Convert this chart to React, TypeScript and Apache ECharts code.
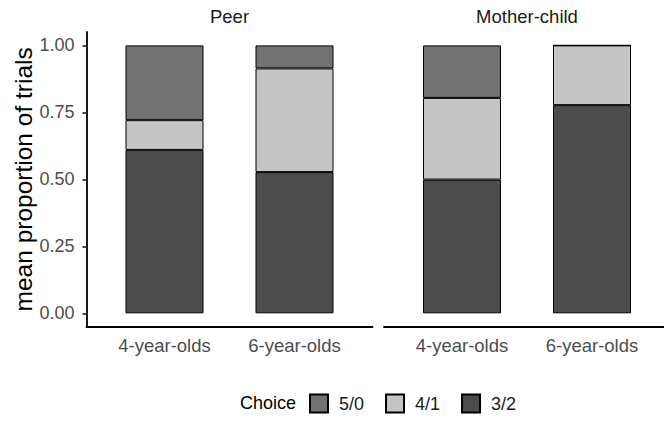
import React, { useEffect, useRef } from "react";
import * as echarts from "echarts";

const panels = ["Peer", "Mother-child"];
const ageGroups = ["4-year-olds", "6-year-olds"];
const choices = ["5/0", "4/1", "3/2"];
const choiceColors = ["#727272", "#c5c5c5", "#4c4c4c"];

// values per choice, per age group
const peer32 = [0.61, 0.527];
const peer41 = [0.111, 0.387];
const peer50 = [0.279, 0.086];
const mother32 = [0.499, 0.777];
const mother41 = [0.305, 0.223];
const mother50 = [0.196, 0.0];

const yTicks = [0, 0.25, 0.5, 0.75, 1];

const FONT = 'Arial, "Liberation Sans", sans-serif';

export default function App() {
  const ref = useRef<HTMLDivElement>(null);
  useEffect(() => {
    if (!ref.current) return;
    const chart = echarts.init(ref.current, null, { renderer: "svg" });
    const gridTop = 32;
    const gridH = 294.7;
    const gridW = 286;
    const unit = gridW / 2.2; // one category step (ggplot discrete expansion 0.6)
    const panelLefts = [86.5, 384];
    // axis-frame grids (0,1) and bar grids (2,3)
    const grids = [
      ...panelLefts.map((l) => ({ left: l, top: gridTop, width: gridW, height: gridH })),
      ...panelLefts.map((l) => ({
        left: l + 0.1 * unit,
        top: gridTop,
        width: 2 * unit,
        height: gridH,
      })),
    ];
    const frameX = panelLefts.map((_, i) => ({
      type: "value",
      gridIndex: i,
      min: 0,
      max: 1,
      position: "bottom",
      splitLine: { show: false },
      axisTick: { show: false },
      axisLabel: { show: false },
      axisLine: { show: true, onZero: false, lineStyle: { color: "#000", width: 1.8 } },
    }));
    const barX = panelLefts.map((_, i) => ({
      type: "category",
      gridIndex: i + 2,
      data: ageGroups,
      position: "bottom",
      axisLine: { show: false },
      axisTick: { show: false },
      splitLine: { show: false },
      axisLabel: {
        color: "#4d4d4d",
        fontSize: 18.5,
        fontFamily: FONT,
        margin: 9,
      },
    }));
    const yAxes = [0, 1, 2, 3].map((i) => ({
      type: "value",
      gridIndex: i,
      min: -0.05,
      max: 1.05,
      show: i === 0,
      splitLine: { show: false },
      axisLine: { show: true, onZero: false, lineStyle: { color: "#000", width: 1.8 } },
      axisTick: {
        show: true,
        customValues: yTicks,
        length: 4,
        lineStyle: { color: "#333", width: 1.8 },
      },
      axisLabel: {
        customValues: yTicks,
        formatter: (v: number) => v.toFixed(2),
        color: "#4d4d4d",
        fontSize: 18,
        fontFamily: FONT,
        margin: 12,
      },
    }));
    const panelData = [
      [peer50, peer41, peer32],
      [mother50, mother41, mother32],
    ];
    const series: any[] = [];
    panelData.forEach((vals, p) => {
      // stack from bottom: 3/2, 4/1, 5/0
      [2, 1, 0].forEach((c) => {
        series.push({
          type: "bar",
          name: choices[c],
          xAxisIndex: p + 2,
          yAxisIndex: p + 2,
          stack: "panel" + p,
          barWidth: "60%",
          data: vals[c],
          itemStyle: { color: choiceColors[c], borderColor: "#000", borderWidth: 1 },
          emphasis: { disabled: true },
        });
      });
    });
    const panelCenters = panelLefts.map((l) => l + gridW / 2);
    chart.setOption({
      animation: false,
      grid: grids,
      xAxis: [...frameX, ...barX],
      yAxis: yAxes,
      series,
      legend: {
        data: choices,
        left: 309,
        top: 393.5,
        padding: 0,
        itemWidth: 18,
        itemHeight: 18,
        itemGap: 21,
        icon: "rect",
        selectedMode: false,
        textStyle: { fontSize: 18, color: "#1a1a1a", fontFamily: FONT, padding: [0, 0, 0, 6] },
      },
      graphic: [
        ...panels.map((t, i) => ({
          type: "text",
          x: panelCenters[i],
          y: 16.4,
          style: {
            text: t,
            fill: "#1a1a1a",
            font: `18.5px ${FONT}`,
            textAlign: "center",
            textVerticalAlign: "middle",
          },
        })),
        {
          type: "text",
          x: 23.5,
          y: gridTop + gridH / 2,
          rotation: Math.PI / 2,
          style: {
            text: "mean proportion of trials",
            fill: "#000",
            font: `24.5px ${FONT}`,
            textAlign: "center",
            textVerticalAlign: "middle",
          },
        },
        {
          type: "text",
          x: 240,
          y: 402.5,
          style: {
            text: "Choice",
            fill: "#000",
            font: `18px ${FONT}`,
            textAlign: "left",
            textVerticalAlign: "middle",
          },
        },
      ],
    });
    return () => chart.dispose();
  }, []);
  return (
    <div
      ref={ref}
      style={{ position: "absolute", left: 0, top: 0, width: 664, height: 423, background: "#fff" }}
    />
  );
}
